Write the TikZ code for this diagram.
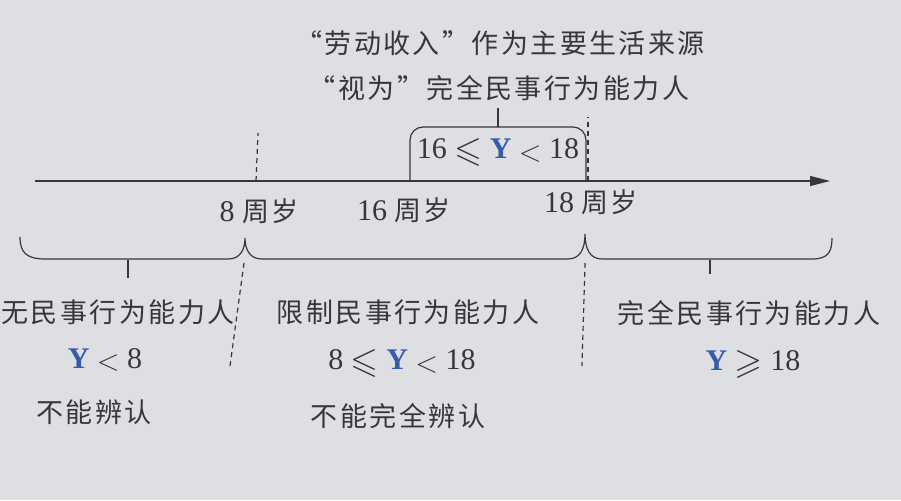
\documentclass[tikz,border=0pt]{standalone}
\usepackage{amssymb}
\usepackage{graphicx}
\usepackage{fontspec}
\setmainfont{Liberation Serif}
\newfontfamily\cjk[LetterSpace=9]{Noto Sans CJK SC}
\usetikzlibrary{arrows.meta}
\definecolor{paper}{RGB}{222,223,226}
\definecolor{ink}{RGB}{55,55,58}
\definecolor{yblue}{RGB}{52,92,170}
\newcommand\Yb{\textcolor{yblue}{\textbf{Y}}}
\newcommand\rel[1]{\raisebox{-0.08em}{\scalebox{1.2}{$#1$}}}
\begin{document}
\begin{tikzpicture}[x=1pt,y=-1pt,
  lbl/.style={font=\fontsize{27}{30}\selectfont\cjk, text=ink, inner sep=0pt, anchor=center},
  num/.style={font=\fontsize{30}{32}\selectfont, text=ink, inner sep=0pt, anchor=center},
  ln/.style={draw=ink, line width=1.2pt},
  dl/.style={draw=ink, line width=1.2pt, dash pattern=on 5pt off 4pt}]
\fill[paper] (0,0) rectangle (901,500);
\useasboundingbox (0,0) rectangle (901,500);

% axis
\coordinate (a0) at (35,181);
\coordinate (a1) at (830,181);
\draw[ln, -{Triangle[length=20pt,width=10pt]}] (a0) -- (a1);

% top texts
\node[lbl] (t1) at (500,43) {“劳动收入”作为主要生活来源};
\node[lbl] (t2) at (499,88) {“视为”完全民事行为能力人};

% ticks
\coordinate (p8) at (256,181);
\coordinate (p8t) at (258,133);
\draw[dl] (p8) -- (p8t);
\coordinate (p18) at (588,181);
\coordinate (p18t) at (588,117);
\draw[dl] (p18) -- (p18t);

% box with rounded top
\coordinate (b0) at (410,181);
\coordinate (b1) at (586,181);
\draw[ln, rounded corners=13pt] (b0) -- (410,127) -- (586,127) -- (b1);
\coordinate (s0) at (498,127);
\coordinate (s1) at (498,108);
\draw[ln] (s0) -- (s1);
\node[num] (bx) at (498,152) {16 \rel{\leqslant} \Yb\ \rel{<} 18};

% axis labels
\node[num] (l8) at (259,211) {8 {\fontsize{27}{30}\selectfont\cjk 周岁}};
\node[num] (l16) at (404,210) {16 {\fontsize{27}{30}\selectfont\cjk 周岁}};
\node[num] (l18) at (591,202) {18 {\fontsize{27}{30}\selectfont\cjk 周岁}};

% braces
\draw[ln] (20,237) .. controls (20,252) and (26,259) .. (45,259) -- (228,259)
  .. controls (240,259) and (245,250) .. (245,238)
  .. controls (245,250) and (250,259) .. (262,259) -- (568,259)
  .. controls (580,259) and (585,249) .. (585,234)
  .. controls (585,249) and (590,259) .. (602,259) -- (812,259)
  .. controls (828,259) and (832,252) .. (832,238);
\coordinate (st1) at (128,260);
\coordinate (st1b) at (128,278);
\draw[ln] (st1) -- (st1b);
\coordinate (st3) at (710,260);
\coordinate (st3b) at (710,274);
\draw[ln] (st3) -- (st3b);

% lower dashed
\coordinate (d1) at (244,263);
\coordinate (d1b) at (230,366);
\draw[dl] (d1) -- (d1b);
\coordinate (d2) at (585,263);
\coordinate (d2b) at (582,366);
\draw[dl] (d2) -- (d2b);

% lower labels
\node[lbl] (n1) at (118,312) {无民事行为能力人};
\node[num] (n1y) at (105,360) {\Yb\ \rel{<} 8};
\node[lbl] (n1c) at (94,412) {不能辨认};

\node[lbl] (n2) at (408,312) {限制民事行为能力人};
\node[num] (n2y) at (402,363) {8 \rel{\leqslant} \Yb\ \rel{<} 18};
\node[lbl] (n2c) at (398,416) {不能完全辨认};

\node[lbl] (n3) at (749,313) {完全民事行为能力人};
\node[num] (n3y) at (753,364) {\Yb\ \rel{\geqslant} 18};
\end{tikzpicture}
\end{document}
